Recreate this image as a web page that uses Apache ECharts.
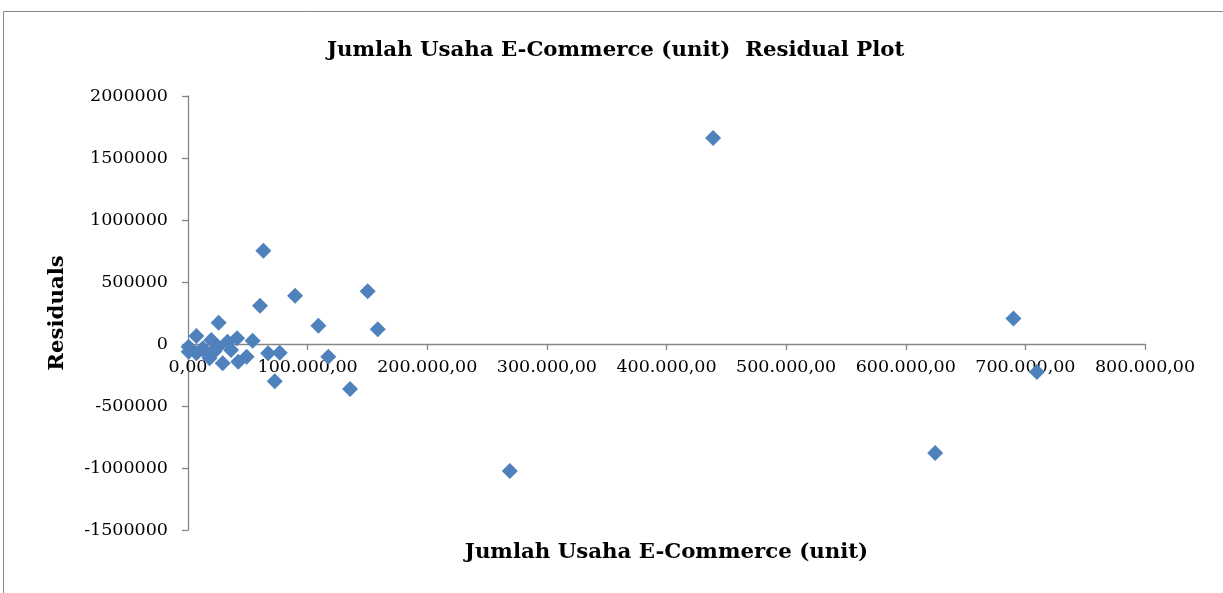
<!DOCTYPE html>
<html>
<head>
<meta charset="utf-8">
<script src="https://cdn.jsdelivr.net/npm/echarts@6/dist/echarts.min.js"></script>
<style>
  html, body { margin: 0; padding: 0; background: #fff; }
  #chart { width: 1223px; height: 593px; }
</style>
</head>
<body>
<div id="chart"></div>
<script>
  // Jumlah Usaha E-Commerce (unit) vs residual
  var unitValues = [
    439000, 269000, 624600, 690000, 709600,
    63000, 60200, 89500, 150200, 109000, 158600, 117300, 135500, 72500, 67000, 76700,
    25600, 7000, 19500, 41000, 54000, 33000, 500, 500, 12500, 25000,
    36000, 18000, 29000, 42000, 49000, 7000, 15000, 22000
  ];
  var residualValues = [
    1661000, -1024000, -879000, 205000, -225000,
    752000, 309000, 389500, 425000, 147600, 118500, -102000, -363000, -300000, -75000, -70000,
    172000, 64000, 32000, 46000, 27000, 19000, -22000, -62000, -35000, -22000,
    -48000, -115000, -156000, -143000, -102000, -75000, -70000, -60000
  ];
  var yTicks = [-1500000, 2000000, 500000];   // min, max, step
  var xTicks = [0, 800000, 100000];

  var serif = 'DejaVu Serif';
  var axisGray = '#868686';
  var gridTop = 96, gridBottom = 63, chartH = 593;

  var points = [];
  for (var i = 0; i < unitValues.length; i++) {
    points.push([unitValues[i], residualValues[i]]);
  }

  // the x axis sits on residual 0, move the whole axis (line, ticks, labels) up there
  var plotH = chartH - gridTop - gridBottom;
  var zeroShift = (0 - yTicks[0]) / (yTicks[1] - yTicks[0]) * plotH;

  var fmtX = function (v) {
    var s = String(Math.round(v)).replace(/\B(?=(\d{3})+(?!\d))/g, '.');
    return s + ',00';
  };

  var chart = echarts.init(document.getElementById('chart'));
  chart.setOption({
    animation: false,
    backgroundColor: '#fff',
    title: {
      text: 'Jumlah Usaha E-Commerce (unit)  Residual Plot',
      left: 322,
      top: 35,
      textStyle: { fontFamily: serif, fontWeight: 'bold', fontSize: 21.3, color: '#000' }
    },
    graphic: [{
      type: 'rect',
      shape: { x: 3.5, y: 11.5, width: 1240, height: 600 },
      style: { fill: 'none', stroke: '#878787', lineWidth: 1 },
      silent: true
    }],
    grid: { left: 188, right: 78, top: gridTop, bottom: gridBottom, containLabel: false, outerBoundsMode: 'none' },
    xAxis: {
      type: 'value',
      min: xTicks[0],
      max: xTicks[1],
      interval: xTicks[2],
      offset: -zeroShift,
      name: 'Jumlah Usaha E-Commerce (unit)',
      nameLocation: 'middle',
      nameGap: 198,
      nameTextStyle: { fontFamily: serif, fontWeight: 'bold', fontSize: 21.3, color: '#000' },
      axisLine: { onZero: false, lineStyle: { color: axisGray, width: 1.3 } },
      axisTick: { show: true, length: 6, lineStyle: { color: axisGray, width: 1.3 } },
      axisLabel: { margin: 14, fontFamily: serif, fontSize: 17.5, color: '#000', formatter: fmtX },
      splitLine: { show: false }
    },
    yAxis: {
      type: 'value',
      min: yTicks[0],
      max: yTicks[1],
      interval: yTicks[2],
      name: 'Residuals',
      nameLocation: 'middle',
      nameGap: 120,
      nameRotate: 90,
      nameTextStyle: { fontFamily: serif, fontWeight: 'bold', fontSize: 21.3, color: '#000' },
      axisLine: { show: true, lineStyle: { color: axisGray, width: 1.3 } },
      axisTick: { show: true, length: 6, lineStyle: { color: axisGray, width: 1.3 } },
      axisLabel: { margin: 20, fontFamily: serif, fontSize: 17.5, color: '#000', formatter: function (v) { return String(v); } },
      splitLine: { show: false }
    },
    series: [{
      type: 'scatter',
      data: points,
      symbol: 'diamond',
      symbolSize: 16,
      itemStyle: { color: '#4F81BD', opacity: 1 },
      z: 5
    }]
  });
</script>
</body>
</html>
